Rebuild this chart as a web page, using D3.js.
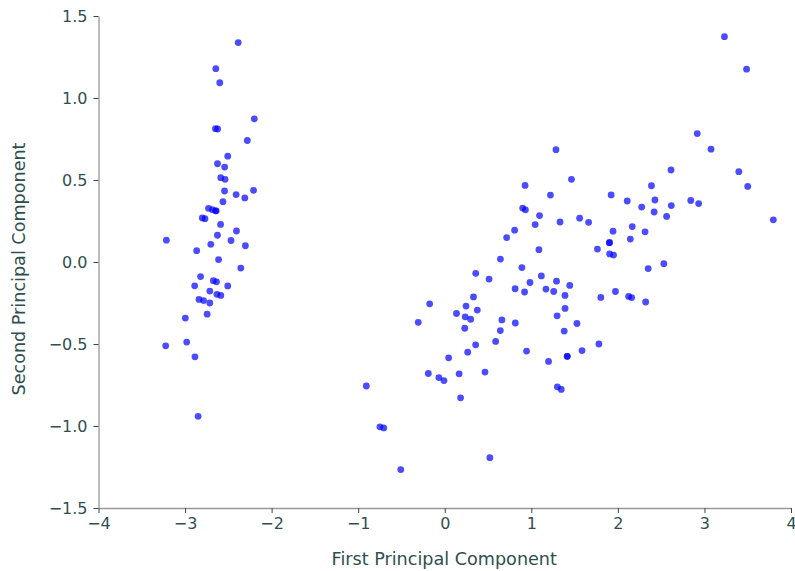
<!DOCTYPE html>
<html>
<head>
<meta charset="utf-8">
<script src="https://cdn.jsdelivr.net/npm/d3@7"></script>
<style>
  body { margin: 0; background: #fff; }
  svg { display: block; font-family: "DejaVu Sans", sans-serif; }
</style>
</head>
<body>
<svg id="chart" width="795" height="571"></svg>
<script>
// Iris data projected on its first two principal components
const pc1 = [
  -2.684, -2.714, -2.889, -2.745, -2.729, -2.281, -2.821, -2.626, -2.886, -2.673,
  -2.507, -2.613, -2.786, -3.224, -2.645, -2.386, -2.624, -2.648, -2.200, -2.588,
  -2.310, -2.544, -3.216, -2.303, -2.356, -2.507, -2.469, -2.562, -2.640, -2.632,
  -2.587, -2.410, -2.649, -2.599, -2.637, -2.866, -2.625, -2.801, -2.981, -2.590,
  -2.770, -2.849, -2.997, -2.406, -2.209, -2.714, -2.538, -2.839, -2.543, -2.703,
   1.285,  0.932,  1.464,  0.183,  1.088,  0.642,  1.095, -0.749,  1.044, -0.009,
  -0.508,  0.512,  0.265,  0.985, -0.174,  0.928,  0.660,  0.236,  0.945,  0.045,
   1.116,  0.358,  1.298,  0.922,  0.715,  0.900,  1.332,  1.558,  0.813, -0.306,
  -0.068, -0.190,  0.136,  1.380,  0.588,  0.807,  1.221,  0.815,  0.246,  0.166,
   0.465,  0.891,  0.231, -0.705,  0.357,  0.332,  0.376,  0.643, -0.906,  0.299,
   2.531,  1.415,  2.617,  1.972,  2.350,  3.397,  0.521,  2.933,  2.321,  2.917,
   1.662,  1.803,  2.166,  1.346,  1.586,  1.904,  1.950,  3.487,  3.796,  1.301,
   2.428,  1.199,  3.500,  1.389,  2.275,  2.614,  1.259,  1.291,  2.124,  2.388,
   2.842,  3.231,  2.159,  1.444,  1.781,  3.076,  2.144,  1.905,  1.169,  2.108,
   2.314,  1.922,  1.415,  2.563,  2.419,  1.944,  1.527,  1.764,  1.901,  1.390
];
const pc2 = [
   0.319, -0.177, -0.145, -0.318,  0.327,  0.741, -0.089,  0.163, -0.578, -0.114,
   0.645,  0.015, -0.235, -0.511,  1.179,  1.338,  0.811,  0.312,  0.873,  0.514,
   0.391,  0.433,  0.133,  0.099, -0.037, -0.146,  0.131,  0.368,  0.312, -0.197,
  -0.204,  0.411,  0.813,  1.093, -0.121,  0.069,  0.599,  0.269, -0.488,  0.229,
   0.264, -0.941, -0.342,  0.189,  0.437, -0.250,  0.504, -0.228,  0.579,  0.108,
   0.685,  0.318,  0.504, -0.828,  0.075, -0.418,  0.283, -1.005,  0.228, -0.723,
  -1.266, -0.104, -0.550, -0.125, -0.255,  0.467, -0.353, -0.334, -0.543, -0.584,
  -0.085, -0.069, -0.328, -0.183,  0.149,  0.329,  0.244,  0.267, -0.163, -0.368,
  -0.705, -0.680, -0.314, -0.421, -0.484,  0.194,  0.408, -0.372, -0.269, -0.682,
  -0.671, -0.034, -0.404, -1.012, -0.505, -0.213, -0.293,  0.018, -0.756, -0.349,
  -0.010, -0.575,  0.344, -0.180, -0.040,  0.551, -1.193,  0.356, -0.244,  0.783,
   0.242, -0.216,  0.216, -0.777, -0.540,  0.119,  0.042,  1.176,  0.257, -0.761,
   0.378, -0.606,  0.461, -0.204,  0.335,  0.561, -0.180, -0.117, -0.210,  0.465,
   0.375,  1.374, -0.217, -0.143, -0.500,  0.688,  0.140,  0.049, -0.165,  0.372,
   0.184,  0.409, -0.575,  0.278,  0.305,  0.188, -0.375,  0.079,  0.117, -0.283
];
const xTicks = [-4, -3, -2, -1, 0, 1, 2, 3, 4];
const yTicks = [-1.5, -1.0, -0.5, 0.0, 0.5, 1.0, 1.5];
const xLabel = "First Principal Component";
const yLabel = "Second Principal Component";

const points = pc1.map((v, i) => ({ x: v, y: pc2[i] }));

const svg = d3.select("#chart");
const margin = { left: 98.5, right: 4, top: 16, bottom: 63 };
const W = 795, H = 571;

const x = d3.scaleLinear().domain([-4, 4]).range([margin.left, W - margin.right]);
const y = d3.scaleLinear().domain([-1.5, 1.5]).range([H - margin.bottom, margin.top]);

const textColor = "#2f4f4f";
const spineColor = "#999999";

function styleAxis(g) {
  g.select(".domain").attr("stroke", spineColor).attr("stroke-width", 1.3);
  g.selectAll(".tick line").attr("stroke", textColor).attr("stroke-width", 1);
  g.selectAll(".tick text").attr("fill", textColor).attr("font-size", 16)
    .attr("font-family", "DejaVu Sans, sans-serif");
}

const minus = s => s.replace("-", "\u2212");

svg.append("g")
  .attr("transform", `translate(0,${H - margin.bottom})`)
  .call(d3.axisBottom(x).tickValues(xTicks).tickSize(5).tickSizeOuter(0).tickPadding(5)
    .tickFormat(d => minus(d3.format("d")(d))))
  .call(styleAxis);

svg.append("g")
  .attr("transform", `translate(${margin.left},0)`)
  .call(d3.axisLeft(y).tickValues(yTicks).tickSize(5).tickSizeOuter(0).tickPadding(6)
    .tickFormat(d => minus(d3.format(".1f")(d))))
  .call(styleAxis);

svg.append("g")
  .selectAll("circle")
  .data(points)
  .join("circle")
  .attr("cx", d => x(d.x))
  .attr("cy", d => y(d.y))
  .attr("r", 3.4)
  .attr("fill", "#0000ff")
  .attr("fill-opacity", 0.7);

svg.append("text")
  .attr("x", (margin.left + W - margin.right) / 2 - 0.5)
  .attr("y", 565)
  .attr("text-anchor", "middle")
  .attr("fill", textColor)
  .attr("font-size", 17.6)
  .text(xLabel);

svg.append("text")
  .attr("transform", `translate(25,${(margin.top + H - margin.bottom) / 2 + 7}) rotate(-90)`)
  .attr("text-anchor", "middle")
  .attr("fill", textColor)
  .attr("font-size", 17.6)
  .text(yLabel);
</script>
</body>
</html>
